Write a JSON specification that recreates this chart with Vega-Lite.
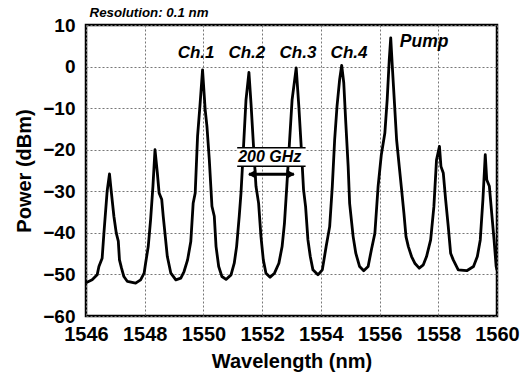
{
  "$schema": "https://vega.github.io/schema/vega-lite/v6.json",
  "width": 411,
  "height": 291,
  "autosize": "none",
  "padding": {"left": 86, "top": 25, "right": 33, "bottom": 61},
  "background": "white",
  "config": {
    "view": {"stroke": "black", "strokeWidth": 2.5},
    "font": "Liberation Sans"
  },
  "layer": [
    {
      "data": {"values": [
        {"wl": 1546.0, "p": -52}, {"wl": 1546.21, "p": -51.3}, {"wl": 1546.38, "p": -50.1}, {"wl": 1546.44, "p": -48.1},
        {"wl": 1546.55, "p": -46.1}, {"wl": 1546.61, "p": -40.1}, {"wl": 1546.72, "p": -30.0}, {"wl": 1546.80, "p": -25.8},
        {"wl": 1546.86, "p": -30}, {"wl": 1546.95, "p": -36}, {"wl": 1547.03, "p": -40}, {"wl": 1547.10, "p": -42},
        {"wl": 1547.14, "p": -46.5}, {"wl": 1547.21, "p": -48.5}, {"wl": 1547.29, "p": -50.5}, {"wl": 1547.41, "p": -51.7},
        {"wl": 1547.69, "p": -52.1}, {"wl": 1547.86, "p": -51.3}, {"wl": 1547.98, "p": -49.7}, {"wl": 1548.03, "p": -47.3},
        {"wl": 1548.12, "p": -43.3}, {"wl": 1548.20, "p": -36.9}, {"wl": 1548.28, "p": -28.8}, {"wl": 1548.35, "p": -20},
        {"wl": 1548.43, "p": -25.6}, {"wl": 1548.49, "p": -30.4}, {"wl": 1548.58, "p": -32}, {"wl": 1548.63, "p": -36},
        {"wl": 1548.69, "p": -40.1}, {"wl": 1548.77, "p": -45.7}, {"wl": 1548.89, "p": -49.7}, {"wl": 1549.06, "p": -51.3},
        {"wl": 1549.23, "p": -50.9}, {"wl": 1549.34, "p": -49.3}, {"wl": 1549.46, "p": -46.5}, {"wl": 1549.57, "p": -42.1},
        {"wl": 1549.65, "p": -32.9}, {"wl": 1549.72, "p": -30.4}, {"wl": 1549.80, "p": -16.8}, {"wl": 1549.88, "p": -9.6},
        {"wl": 1549.97, "p": -0.8}, {"wl": 1550.06, "p": -10.4}, {"wl": 1550.12, "p": -14.4}, {"wl": 1550.20, "p": -22.4},
        {"wl": 1550.29, "p": -33.6}, {"wl": 1550.37, "p": -36}, {"wl": 1550.43, "p": -43.3}, {"wl": 1550.52, "p": -48.1},
        {"wl": 1550.63, "p": -50.5}, {"wl": 1550.77, "p": -51.2}, {"wl": 1550.94, "p": -50.1}, {"wl": 1551.05, "p": -47.3},
        {"wl": 1551.13, "p": -43.3}, {"wl": 1551.22, "p": -36}, {"wl": 1551.28, "p": -30.4}, {"wl": 1551.36, "p": -20},
        {"wl": 1551.45, "p": -8}, {"wl": 1551.55, "p": -1.4}, {"wl": 1551.62, "p": -8.8}, {"wl": 1551.70, "p": -18.4},
        {"wl": 1551.79, "p": -28.8}, {"wl": 1551.88, "p": -32.9}, {"wl": 1551.96, "p": -40.9}, {"wl": 1552.04, "p": -46.5},
        {"wl": 1552.13, "p": -49.7}, {"wl": 1552.27, "p": -50.7}, {"wl": 1552.42, "p": -49.7}, {"wl": 1552.57, "p": -47.3},
        {"wl": 1552.68, "p": -43.3}, {"wl": 1552.76, "p": -37.7}, {"wl": 1552.84, "p": -28.8}, {"wl": 1552.93, "p": -18.4},
        {"wl": 1553.02, "p": -8}, {"wl": 1553.16, "p": -0.3}, {"wl": 1553.25, "p": -9.6}, {"wl": 1553.33, "p": -19.2},
        {"wl": 1553.41, "p": -29.6}, {"wl": 1553.48, "p": -33.7}, {"wl": 1553.56, "p": -41.7}, {"wl": 1553.64, "p": -45.7},
        {"wl": 1553.73, "p": -48.9}, {"wl": 1553.90, "p": -50.1}, {"wl": 1554.05, "p": -48.9}, {"wl": 1554.18, "p": -43.3},
        {"wl": 1554.30, "p": -38.5}, {"wl": 1554.39, "p": -28.8}, {"wl": 1554.47, "p": -17.6}, {"wl": 1554.55, "p": -9.6},
        {"wl": 1554.64, "p": -3.1}, {"wl": 1554.71, "p": 0.3}, {"wl": 1554.78, "p": -3.9}, {"wl": 1554.85, "p": -13.6},
        {"wl": 1554.93, "p": -24}, {"wl": 1554.98, "p": -32.9}, {"wl": 1555.10, "p": -40.9}, {"wl": 1555.19, "p": -44.9},
        {"wl": 1555.32, "p": -48.1}, {"wl": 1555.46, "p": -49.1}, {"wl": 1555.61, "p": -48.1}, {"wl": 1555.72, "p": -44.1},
        {"wl": 1555.84, "p": -40.1}, {"wl": 1555.95, "p": -28.8}, {"wl": 1556.06, "p": -21.2}, {"wl": 1556.18, "p": -16},
        {"wl": 1556.26, "p": -7.9}, {"wl": 1556.33, "p": 1.7}, {"wl": 1556.38, "p": 6.9}, {"wl": 1556.44, "p": -0.7},
        {"wl": 1556.50, "p": -7.9}, {"wl": 1556.58, "p": -17.6}, {"wl": 1556.67, "p": -24}, {"wl": 1556.75, "p": -29.6},
        {"wl": 1556.83, "p": -35.3}, {"wl": 1556.90, "p": -40.9}, {"wl": 1556.98, "p": -43.3}, {"wl": 1557.09, "p": -45.7},
        {"wl": 1557.20, "p": -47.3}, {"wl": 1557.35, "p": -48.5}, {"wl": 1557.49, "p": -47.7}, {"wl": 1557.60, "p": -45.7},
        {"wl": 1557.74, "p": -41.7}, {"wl": 1557.85, "p": -33.7}, {"wl": 1557.94, "p": -22.4}, {"wl": 1558.04, "p": -19.2},
        {"wl": 1558.09, "p": -24}, {"wl": 1558.17, "p": -25.6}, {"wl": 1558.25, "p": -32}, {"wl": 1558.34, "p": -38.5},
        {"wl": 1558.42, "p": -44.9}, {"wl": 1558.51, "p": -46.5}, {"wl": 1558.68, "p": -48.9}, {"wl": 1558.97, "p": -49.1},
        {"wl": 1559.20, "p": -48.1}, {"wl": 1559.33, "p": -45.7}, {"wl": 1559.43, "p": -41.7}, {"wl": 1559.52, "p": -32},
        {"wl": 1559.60, "p": -21.2}, {"wl": 1559.65, "p": -27.2}, {"wl": 1559.74, "p": -28.8}, {"wl": 1559.82, "p": -35.3},
        {"wl": 1559.90, "p": -41.7}, {"wl": 1559.97, "p": -48}, {"wl": 1560.0, "p": -49}
      ]},
      "mark": {"type": "line", "color": "black", "strokeWidth": 2.8, "strokeJoin": "round", "clip": true},
      "encoding": {
        "x": {"field": "wl", "type": "quantitative",
          "scale": {"domain": [1546, 1560], "nice": false, "zero": false},
          "axis": {"title": "Wavelength (nm)", "values": [1546, 1548, 1550, 1552, 1554, 1556, 1558, 1560],
            "format": "d", "labelFlush": false, "labelOverlap": false,
            "labelFont": "Liberation Sans", "labelFontSize": 20, "labelFontWeight": "bold", "labelColor": "black",
            "titleFont": "Liberation Sans", "titleFontSize": 20, "titleFontWeight": "bold", "titleColor": "black",
            "ticks": false, "tickSize": 0, "domain": false, "labelPadding": 8, "titlePadding": 7,
            "grid": true, "gridDash": [2, 2], "gridColor": "#777", "gridWidth": 1}},
        "y": {"field": "p", "type": "quantitative",
          "scale": {"domain": [-60, 10], "nice": false, "zero": false},
          "axis": {"title": "Power (dBm)", "values": [-60, -50, -40, -30, -20, -10, 0, 10],
            "labelOverlap": false, "labelFlush": false,
            "labelFont": "Liberation Sans", "labelFontSize": 19, "labelFontWeight": "bold", "labelColor": "black",
            "titleFont": "Liberation Sans", "titleFontSize": 20, "titleFontWeight": "bold", "titleColor": "black",
            "ticks": false, "tickSize": 0, "domain": false, "labelPadding": 11, "titlePadding": 8,
            "grid": true, "gridDash": [2, 2], "gridColor": "#777", "gridWidth": 1}}
      }
    },
    {
      "data": {"values": [{"x1": 1551.15, "x2": 1553.48, "y1": -19.5, "y2": -24.0}]},
      "mark": {"type": "rect", "fill": "white"},
      "encoding": {
        "x": {"field": "x1", "type": "quantitative"}, "x2": {"field": "x2"},
        "y": {"field": "y1", "type": "quantitative"}, "y2": {"field": "y2"}
      }
    },
    {
      "data": {"values": [{"x1": 1551.15, "x2": 1553.48, "y": -19.5}, {"x1": 1551.15, "x2": 1553.48, "y": -24.0}]},
      "mark": {"type": "rule", "color": "black", "strokeWidth": 1.5},
      "encoding": {
        "x": {"field": "x1", "type": "quantitative"}, "x2": {"field": "x2"},
        "y": {"field": "y", "type": "quantitative"}
      }
    },
    {
      "data": {"values": [{"x1": 1551.55, "x2": 1553.08, "y": -25.9}]},
      "mark": {"type": "rule", "color": "black", "strokeWidth": 3},
      "encoding": {
        "x": {"field": "x1", "type": "quantitative"}, "x2": {"field": "x2"},
        "y": {"field": "y", "type": "quantitative"}
      }
    },
    {
      "data": {"values": [{"x": 1551.66, "y": -25.9, "s": "triangle-left"}, {"x": 1552.97, "y": -25.9, "s": "triangle-right"}]},
      "mark": {"type": "point", "filled": true, "color": "black", "opacity": 1, "size": 90},
      "encoding": {
        "x": {"field": "x", "type": "quantitative"},
        "y": {"field": "y", "type": "quantitative"},
        "shape": {"field": "s", "type": "nominal", "scale": null}
      }
    },
    {
      "data": {"values": [
        {"x": 1549.75, "y": 3.2, "t": "Ch.1"},
        {"x": 1551.48, "y": 3.2, "t": "Ch.2"},
        {"x": 1553.22, "y": 3.2, "t": "Ch.3"},
        {"x": 1554.96, "y": 3.2, "t": "Ch.4"}
      ]},
      "mark": {"type": "text", "font": "Liberation Sans", "fontStyle": "italic", "fontWeight": "bold", "fontSize": 17, "color": "black", "baseline": "middle", "align": "center"},
      "encoding": {
        "x": {"field": "x", "type": "quantitative"},
        "y": {"field": "y", "type": "quantitative"},
        "text": {"field": "t"}
      }
    },
    {
      "data": {"values": [{"x": 1556.69, "y": 6.0, "t": "Pump"}]},
      "mark": {"type": "text", "font": "Liberation Sans", "fontStyle": "italic", "fontWeight": "bold", "fontSize": 17.5, "color": "black", "baseline": "middle", "align": "left"},
      "encoding": {
        "x": {"field": "x", "type": "quantitative"},
        "y": {"field": "y", "type": "quantitative"},
        "text": {"field": "t"}
      }
    },
    {
      "data": {"values": [{"x": 1552.26, "y": -21.8, "t": "200 GHz"}]},
      "mark": {"type": "text", "font": "Liberation Sans", "fontStyle": "italic", "fontWeight": "bold", "fontSize": 16, "color": "black", "baseline": "middle", "align": "center"},
      "encoding": {
        "x": {"field": "x", "type": "quantitative"},
        "y": {"field": "y", "type": "quantitative"},
        "text": {"field": "t"}
      }
    },
    {
      "data": {"values": [{"x": 1546.12, "y": 12.8, "t": "Resolution: 0.1 nm"}]},
      "mark": {"type": "text", "font": "Liberation Sans", "fontStyle": "italic", "fontWeight": "bold", "fontSize": 13.3, "color": "black", "baseline": "middle", "align": "left"},
      "encoding": {
        "x": {"field": "x", "type": "quantitative"},
        "y": {"field": "y", "type": "quantitative"},
        "text": {"field": "t"}
      }
    }
  ]
}
